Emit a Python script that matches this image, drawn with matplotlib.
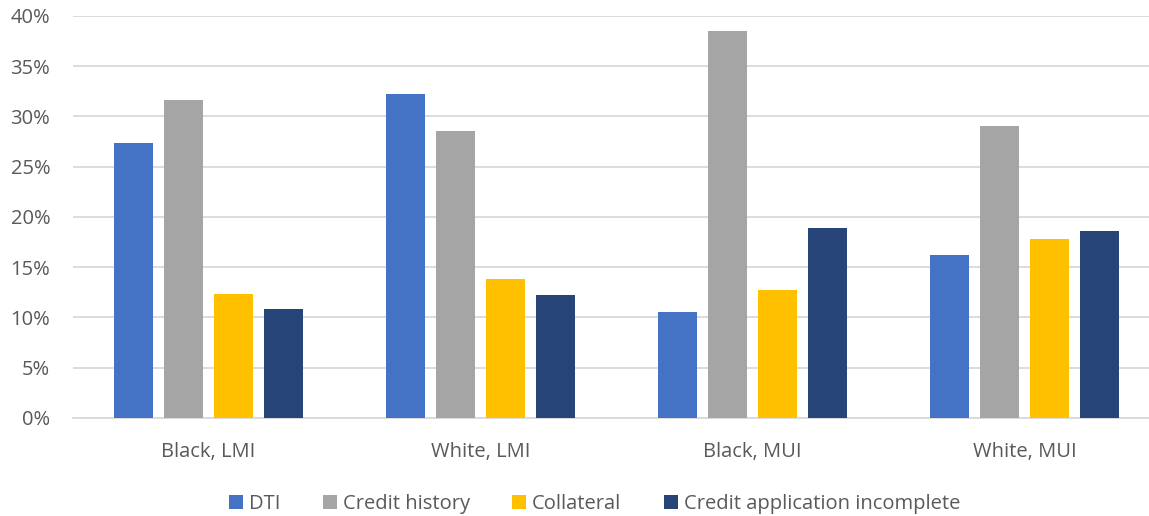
import matplotlib
matplotlib.use("Agg")
import matplotlib.pyplot as plt
import numpy as np

categories = ["Black, LMI", "White, LMI", "Black, MUI", "White, MUI"]
series_names = ["DTI", "Credit history", "Collateral", "Credit application incomplete"]
dti = [27.4, 32.2, 10.5, 16.2]
credit_history = [31.6, 28.6, 38.5, 29.1]
collateral = [12.3, 13.8, 12.7, 17.8]
incomplete = [10.8, 12.2, 18.9, 18.6]
y_ticks = [0, 5, 10, 15, 20, 25, 30, 35, 40]

colors = ["#4472C4", "#A5A5A5", "#FFC000", "#264478"]
plt.rcParams['font.family'] = ['Open Sans', 'DejaVu Sans']
text_color = "#595959"

fig = plt.figure(figsize=(11.49, 5.16), dpi=100)
ax = fig.add_axes([0.0631, 0.19, 0.947, 0.779])

x = np.arange(len(categories))
step = 0.184
width = 0.145
all_series = [dti, credit_history, collateral, incomplete]
for i, (vals, name, c) in enumerate(zip(all_series, series_names, colors)):
    ax.bar(x + (i - 1.5) * step, vals, width=width, color=c, label=name, zorder=3)

ax.set_xlim(-0.5, len(categories) - 0.5)
ax.set_ylim(0, 40)
ax.set_yticks(y_ticks)
ax.set_yticklabels([f"{t}%" for t in y_ticks])
ax.set_xticks(x)
ax.set_xticklabels(categories)
ax.yaxis.grid(True, color="#D9D9D9", linewidth=1.3, zorder=0)
ax.set_axisbelow(True)
for s in ["top", "right", "left"]:
    ax.spines[s].set_visible(False)
ax.spines["bottom"].set_color("#D9D9D9")
ax.spines["bottom"].set_linewidth(1.3)
ax.tick_params(axis="both", length=0, labelsize=14.5, colors=text_color)
ax.tick_params(axis="x", pad=17)
ax.tick_params(axis="y", pad=16)

leg = fig.legend(*ax.get_legend_handles_labels(), loc="center", bbox_to_anchor=(594.5 / 1149, 1 - 504 / 516),
                 ncol=4, frameon=False,
                 fontsize=14.5, handlelength=0.7, handleheight=0.7, handletextpad=0.3,
                 columnspacing=2.1)
for t in leg.get_texts():
    t.set_color(text_color)

fig.savefig("out.png", dpi=100)
